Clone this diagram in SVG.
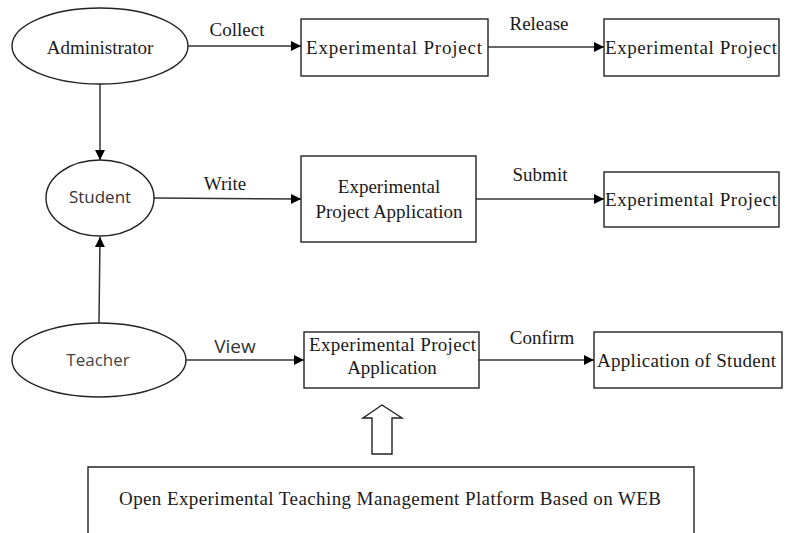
<svg xmlns="http://www.w3.org/2000/svg" width="787" height="533" viewBox="0 0 787 533">
<style>
.shape{fill:#fff;stroke:#222;stroke-width:1.4}
.conn{fill:none;stroke:#333;stroke-width:1.5}
.serif{font-family:"Liberation Serif","Times New Roman",serif;font-size:19px;fill:#1a1a1a}
.sans{font-family:"Open Sans","Noto Sans",sans-serif;font-size:17px;fill:#333}
.mid{text-anchor:middle}
</style>
<defs>
<marker id="ah" viewBox="0 0 10 10" refX="10" refY="5" markerWidth="10" markerHeight="10" markerUnits="userSpaceOnUse" orient="auto">
<path d="M0,0 L10,5 L0,10 Z" fill="#000"/>
</marker>
</defs>
<rect width="787" height="533" fill="#fff"/>

<g id="connectors">
<line class="conn" x1="188" y1="46" x2="301" y2="46" marker-end="url(#ah)"/>
<line class="conn" x1="488" y1="47" x2="604" y2="47" marker-end="url(#ah)"/>
<line class="conn" x1="100" y1="84" x2="100" y2="160" marker-end="url(#ah)"/>
<line class="conn" x1="154" y1="198" x2="301" y2="199" marker-end="url(#ah)"/>
<line class="conn" x1="476" y1="199" x2="604" y2="199" marker-end="url(#ah)"/>
<line class="conn" x1="99" y1="323" x2="100" y2="237" marker-end="url(#ah)"/>
<line class="conn" x1="186" y1="360" x2="304" y2="360" marker-end="url(#ah)"/>
<line class="conn" x1="479" y1="360" x2="594" y2="360" marker-end="url(#ah)"/>
<polygon class="shape" points="382,405 402,418 392,418 392,454 372,454 372,418 363,418"/>
<text class="serif mid" x="237" y="36">Collect</text>
<text class="serif mid" x="539" y="30">Release</text>
<text class="serif mid" x="225" y="190">Write</text>
<text class="serif mid" x="540" y="181">Submit</text>
<text class="sans mid" x="235" y="353" style="font-size:19px">View</text>
<text class="serif mid" x="542" y="344">Confirm</text>
</g>

<g id="administrator">
<ellipse class="shape" cx="100" cy="46" rx="88" ry="38"/>
<text class="serif mid" x="100" y="54">Administrator</text>
</g>
<g id="box-collect">
<rect class="shape" x="301" y="19" width="187" height="57"/>
<text class="serif" x="306" y="54" textLength="176" lengthAdjust="spacing">Experimental  Project</text>
</g>
<g id="box-release">
<rect class="shape" x="604" y="19" width="175" height="57"/>
<text class="serif" x="605" y="54" textLength="172" lengthAdjust="spacing">Experimental Project</text>
</g>

<g id="student">
<ellipse class="shape" cx="100" cy="198" rx="54" ry="38"/>
<text class="sans mid" x="100" y="203">Student</text>
</g>
<g id="box-write">
<rect class="shape" x="301" y="156" width="175" height="86"/>
<text class="serif mid" x="389" y="193">Experimental</text>
<text class="serif mid" x="389" y="218">Project Application</text>
</g>
<g id="box-submit">
<rect class="shape" x="604" y="172" width="175" height="55"/>
<text class="serif" x="605" y="206" textLength="172" lengthAdjust="spacing">Experimental Project</text>
</g>

<g id="teacher">
<ellipse class="shape" cx="99" cy="360" rx="87" ry="37"/>
<text class="sans mid" x="98" y="366" style="fill:#444">Teacher</text>
</g>
<g id="box-view">
<rect class="shape" x="304" y="332" width="175" height="56"/>
<text class="serif" x="309" y="351" textLength="167" lengthAdjust="spacing">Experimental Project</text>
<text class="serif mid" x="392" y="374">Application</text>
</g>
<g id="box-confirm">
<rect class="shape" x="594" y="332" width="188" height="56"/>
<text class="serif" x="597" y="367" textLength="179" lengthAdjust="spacing">Application of Student</text>
</g>

<g id="platform">
<path class="shape" d="M88,540 L88,467 L694,467 L694,540"/>
<text class="serif" x="119" y="505" textLength="542" lengthAdjust="spacing">Open Experimental Teaching Management Platform Based on WEB</text>
</g>
</svg>
